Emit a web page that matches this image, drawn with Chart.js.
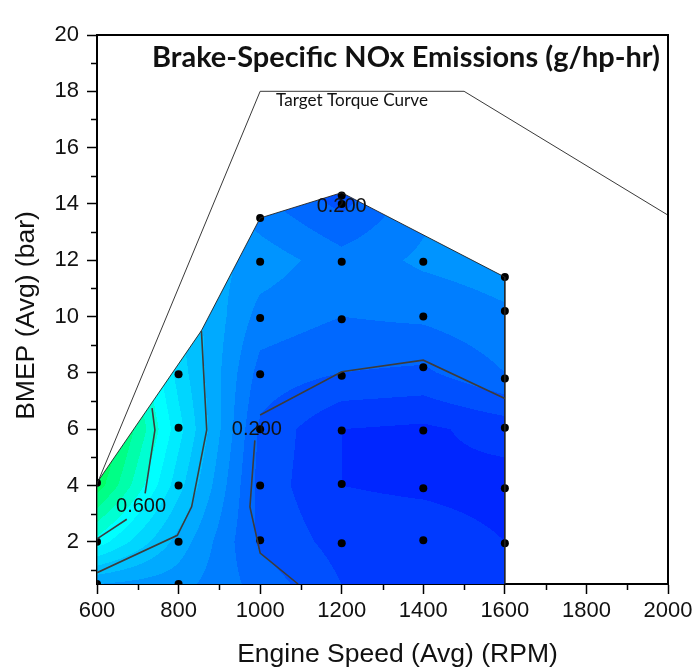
<!DOCTYPE html>
<html><head><meta charset="utf-8">
<script src="https://cdn.jsdelivr.net/npm/chart.js@4.4.0/dist/chart.umd.min.js"></script>
<style>html,body{margin:0;padding:0;background:#fff;}#wrap{width:700px;height:671px;}</style>
</head><body><div id="wrap"><canvas id="c" width="700" height="671"></canvas></div>
<script>
// ---- Data ----
const rpmGrid = [600, 800, 1000, 1200, 1400, 1600];
const bmepGrid = [0.5, 2, 4, 6, 8, 10, 12, 14.4];
// NOx (g/hp-hr) per BMEP row, bottom to top, over rpmGrid
const nox_r0 = [0.35, 0.32, 0.23, 0.15, 0.13, 0.11];
const nox_r2 = [0.58, 0.38, 0.19, 0.13, 0.13, 0.10];
const nox_r4 = [0.78, 0.47, 0.18, 0.10, 0.09, 0.08];
const nox_r6 = [0.85, 0.52, 0.19, 0.10, 0.09, 0.12];
const nox_r8 = [0.80, 0.48, 0.23, 0.20, 0.19, 0.25];
const nox_r10 = [0.70, 0.45, 0.28, 0.25, 0.26, 0.29];
const nox_r12 = [0.60, 0.40, 0.33, 0.27, 0.31, 0.33];
const nox_r14 = [0.50, 0.35, 0.25, 0.17, 0.28, 0.32];

// measured operating points (BMEP per engine speed)
const pts600 = [0.5, 2.0, 4.1];
const pts800 = [0.5, 2.0, 4.0, 6.05, 7.95];
const pts1000 = [2.05, 4.0, 6.0, 7.95, 9.95, 11.95, 13.5];
const pts1200 = [1.95, 4.05, 5.95, 7.9, 9.9, 11.95, 14.0, 14.3];
const pts1400 = [2.05, 3.9, 5.95, 8.2, 10.0, 11.95];
const pts1600 = [1.95, 3.9, 6.05, 7.8, 10.2, 11.4];

// boundary of the mapped region
const hullRpm = [600, 600, 856, 1000, 1200, 1600, 1600];
const hullBmep = [0, 4.1, 9.5, 13.5, 14.4, 11.4, 0];

// target torque curve
const torqueRpm = [600, 1000, 1500, 2000];
const torqueBmep = [4.05, 18, 18, 13.6];

// contour lines
const c06aRpm = [735, 742, 718];   const c06aBmep = [6.75, 5.97, 3.72];
const c06bRpm = [673, 600];        const c06bBmep = [2.8, 2.1];
const c04Rpm = [856, 869, 832, 797, 600]; const c04Bmep = [9.5, 5.97, 3.24, 2.23, 0.9];
const c02aRpm = [1093, 1000, 975, 987];   const c02aBmep = [0.5, 1.6, 3.24, 5.6];
const c02bRpm = [1000, 1200, 1400, 1600]; const c02bBmep = [6.5, 8.04, 8.45, 7.09];

// contour labels
const labelText = ['0.200', '0.200', '0.600'];
const labelRpm = [1200, 992, 708];
const labelBmep = [13.9, 6.0, 3.25];

// ticks
const xTicks = [600, 800, 1000, 1200, 1400, 1600, 1800, 2000];
const xMinor = [700, 900, 1100, 1300, 1500, 1700, 1900];
const yTicks = [2, 4, 6, 8, 10, 12, 14, 16, 18, 20];
const yMinor = [1, 3, 5, 7, 9, 11, 13, 15, 17, 19];

// contour band colours (0.05 steps)
const bandStep = 0.05;
const bandColors = ['#0026FF', '#0026FF', '#003AFF', '#0050FF', '#0068FF', '#007EFF', '#0094FF',
  '#00AAFF', '#00C0FF', '#00D6FF', '#00ECFF', '#00FFFF', '#00FFD2', '#00FFAA', '#00FF86', '#00FF66'];

const titleText = 'Brake-Specific NOx Emissions (g/hp-hr)';
const torqueLabel = 'Target Torque Curve';
const torqueLabelRpm = 1039, torqueLabelBmep = 17.66;
const xTitle = 'Engine Speed (Avg) (RPM)';
const yTitle = 'BMEP (Avg) (bar)';

// ---- helpers ----
const zip = (xs, ys) => xs.map((v, i) => ({x: v, y: ys[i]}));
const noxRows = [nox_r0, nox_r2, nox_r4, nox_r6, nox_r8, nox_r10, nox_r12, nox_r14];
const rgb = bandColors.map(h => [parseInt(h.slice(1,3),16), parseInt(h.slice(3,5),16), parseInt(h.slice(5,7),16)]);
function seg(arr, v) {
  let i = 0;
  while (i < arr.length - 2 && v > arr[i + 1]) i++;
  let t = (v - arr[i]) / (arr[i + 1] - arr[i]);
  return [i, Math.max(0, Math.min(1, t))];
}

const fillPlugin = {
  id: 'contourFill',
  beforeDatasetsDraw(chart) {
    const {ctx, chartArea: a, scales} = chart;
    const xs = scales.x, ys = scales.y;
    const w = Math.round(a.right - a.left), h = Math.round(a.bottom - a.top);
    const off = document.createElement('canvas'); off.width = w; off.height = h;
    const octx = off.getContext('2d');
    const img = octx.createImageData(w, h);
    const d = img.data;
    const xi = [];
    for (let px = 0; px < w; px++) xi.push(seg(rpmGrid, xs.getValueForPixel(a.left + px + 0.5)));
    for (let py = 0; py < h; py++) {
      const [j, ty] = seg(bmepGrid, ys.getValueForPixel(a.top + py + 0.5));
      const r0 = noxRows[j], r1 = noxRows[j + 1];
      for (let px = 0; px < w; px++) {
        const [i, tx] = xi[px];
        const v0 = r0[i] + (r0[i + 1] - r0[i]) * tx;
        const v1 = r1[i] + (r1[i + 1] - r1[i]) * tx;
        const v = v0 + (v1 - v0) * ty;
        let k = Math.floor(v / bandStep);
        k = Math.max(0, Math.min(rgb.length - 1, k));
        const c = rgb[k], o = (py * w + px) * 4;
        d[o] = c[0]; d[o + 1] = c[1]; d[o + 2] = c[2]; d[o + 3] = 255;
      }
    }
    octx.putImageData(img, 0, 0);
    ctx.save();
    ctx.beginPath();
    ctx.rect(a.left, a.top, a.right - a.left, a.bottom - a.top);
    ctx.clip();
    ctx.beginPath();
    hullRpm.forEach((r, n) => {
      const X = xs.getPixelForValue(r), Y = ys.getPixelForValue(hullBmep[n]);
      if (n === 0) ctx.moveTo(X, Y); else ctx.lineTo(X, Y);
    });
    ctx.closePath();
    ctx.clip();
    ctx.drawImage(off, a.left, a.top);
    ctx.restore();
  },
  afterDatasetsDraw(chart) {
    const {ctx, chartArea: a, scales} = chart;
    const xs = scales.x, ys = scales.y;
    ctx.save();
    // contour labels
    ctx.fillStyle = '#111';
    ctx.font = '20px "Liberation Sans", Arial, sans-serif';
    ctx.textAlign = 'center'; ctx.textBaseline = 'middle';
    labelText.forEach((t, n) => ctx.fillText(t, xs.getPixelForValue(labelRpm[n]), ys.getPixelForValue(labelBmep[n])));
    // torque label
    ctx.font = '15px Lato, "Open Sans", sans-serif';
    let tw = ctx.measureText(torqueLabel).width;
    let fs = 15 * 152 / tw;
    ctx.font = fs.toFixed(2) + 'px Lato, "Open Sans", sans-serif';
    ctx.textAlign = 'left';
    ctx.fillText(torqueLabel, xs.getPixelForValue(torqueLabelRpm), ys.getPixelForValue(torqueLabelBmep));
    // title
    ctx.font = 'bold 24px Lato, "Open Sans", sans-serif';
    tw = ctx.measureText(titleText).width;
    fs = 24 * 508 / tw;
    ctx.font = 'bold ' + fs.toFixed(2) + 'px Lato, "Open Sans", sans-serif';
    ctx.textAlign = 'right';
    ctx.fillText(titleText, a.right - 8, a.top + 23);
    ctx.restore();
  },
  afterDraw(chart) {
    const {ctx, chartArea: a, scales} = chart;
    const xs = scales.x, ys = scales.y;
    ctx.save();
    ctx.strokeStyle = '#000';
    ctx.lineWidth = 2;
    ctx.beginPath();
    ctx.moveTo(a.left, a.top); ctx.lineTo(a.right, a.top); ctx.lineTo(a.right, a.bottom);
    ctx.stroke();
    ctx.lineWidth = 1.5;
    ctx.beginPath();
    xMinor.forEach(v => { const X = Math.round(xs.getPixelForValue(v)) + 0.5; ctx.moveTo(X, a.bottom); ctx.lineTo(X, a.bottom + 6); });
    yMinor.forEach(v => { const Y = Math.round(ys.getPixelForValue(v)) + 0.5; ctx.moveTo(a.left, Y); ctx.lineTo(a.left - 6, Y); });
    ctx.stroke();
    // axis titles
    ctx.fillStyle = '#111';
    ctx.font = '26.5px "Liberation Sans", Arial, sans-serif';
    ctx.textAlign = 'center'; ctx.textBaseline = 'middle';
    ctx.fillText(xTitle, (a.left + a.right) / 2 + 15, a.bottom + 71);
    ctx.translate(a.left - 70, (a.top + a.bottom) / 2 + 6);
    ctx.rotate(-Math.PI / 2);
    ctx.fillText(yTitle, 0, 0);
    ctx.restore();
  }
};

const lineDs = (data, color, width) => ({type: 'scatter', data, showLine: true, borderColor: color, borderWidth: width,
  pointRadius: 0, fill: false, tension: 0});

const dots = [].concat(
  pts600.map(b => ({x: 600, y: b})), pts800.map(b => ({x: 800, y: b})), pts1000.map(b => ({x: 1000, y: b})),
  pts1200.map(b => ({x: 1200, y: b})), pts1400.map(b => ({x: 1400, y: b})), pts1600.map(b => ({x: 1600, y: b})));

const tickFont = {family: '"Liberation Sans", Arial, sans-serif', size: 22};

new Chart(document.getElementById('c'), {
  type: 'scatter',
  data: {
    datasets: [
      lineDs(zip(c06aRpm, c06aBmep), '#3c3c3c', 1.6),
      lineDs(zip(c06bRpm, c06bBmep), '#3c3c3c', 1.6),
      lineDs(zip(c04Rpm, c04Bmep), '#3c3c3c', 1.6),
      lineDs(zip(c02aRpm, c02aBmep), '#3c3c3c', 1.6),
      lineDs(zip(c02bRpm, c02bBmep), '#3c3c3c', 1.6),
      lineDs(zip(hullRpm, hullBmep), '#222', 0.9),
      lineDs(zip(torqueRpm, torqueBmep), '#222', 0.9),
      {data: dots, pointRadius: 4, pointBackgroundColor: '#000', pointBorderWidth: 0, showLine: false}
    ]
  },
  options: {
    responsive: false, animation: false, devicePixelRatio: 1,
    layout: {padding: {top: 35, right: 32, left: 0, bottom: 0}},
    plugins: {legend: {display: false}, tooltip: {enabled: false}},
    scales: {
      x: {
        type: 'linear', min: 600, max: 2000,
        afterBuildTicks: s => { s.ticks = xTicks.map(v => ({value: v})); },
        afterFit: s => { s.height = 87; },
        ticks: {font: tickFont, color: '#111', padding: 4, maxRotation: 0, callback: v => String(v)},
        grid: {drawOnChartArea: false, drawTicks: true, tickLength: 10, tickColor: '#000', tickWidth: 1.5},
        border: {display: true, color: '#000', width: 2}
      },
      y: {
        type: 'linear', min: 0.5, max: 20,
        afterBuildTicks: s => { s.ticks = yTicks.map(v => ({value: v})); },
        afterFit: s => { s.width = 97; },
        ticks: {font: tickFont, color: '#111', padding: 8, callback: v => String(v)},
        grid: {drawOnChartArea: false, drawTicks: true, tickLength: 10, tickColor: '#000', tickWidth: 1.5},
        border: {display: true, color: '#000', width: 2}
      }
    }
  },
  plugins: [fillPlugin]
});
</script></body></html>
